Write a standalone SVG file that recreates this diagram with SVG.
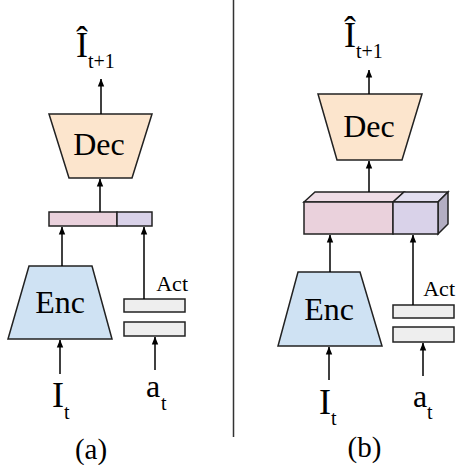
<svg xmlns="http://www.w3.org/2000/svg" width="456" height="465" viewBox="0 0 456 465">
<defs>
<marker id="ah" viewBox="0 0 8 8" refX="7.5" refY="4" markerWidth="8" markerHeight="8" markerUnits="userSpaceOnUse" orient="auto">
<path d="M0,0.8 L8,4 L0,7.2 Z" fill="#000"/>
</marker>
</defs>
<style>
text{font-family:"Liberation Serif","Times New Roman",serif;fill:#000}
.big{font-size:36px}
.sub{font-size:20px}
.lbl{font-size:32px;text-anchor:middle}
.act{font-size:22px;text-anchor:end}
.cap{font-size:29px;text-anchor:middle}
.shape{stroke:#222;stroke-width:1.5;stroke-linejoin:miter}
.dec{fill:#FCE5CD}
.enc{fill:#CFE2F3}
.pink{fill:#EAD1DC}
.lav{fill:#D9D2E9}
.pinkt{fill:#EFDDE6}
.lavt{fill:#E3DFF0}
.lavs{fill:#B3AEC2}
.box{fill:#EEEEEE}
.arr{stroke:#000;stroke-width:1.5;fill:none;marker-end:url(#ah)}
</style>

<line x1="233.5" y1="0" x2="233.5" y2="437" stroke="#333" stroke-width="1.5"/>

<!-- Panel (a) -->
<g id="a-out">
<text class="big"><tspan x="76" y="57">Î</tspan><tspan class="sub" x="88" y="68">t+1</tspan></text>
</g>
<g id="a-dec">
<polygon class="shape dec" points="49,114 152,114 132,178 69,178"/>
<text class="lbl" x="99" y="155">Dec</text>
</g>
<g id="a-bar">
<rect class="shape pink" x="49" y="212" width="68" height="14"/>
<rect class="shape lav" x="117" y="212" width="35" height="14"/>
</g>
<g id="a-enc">
<polygon class="shape enc" points="29,266 92,266 112,339 8,339"/>
<text class="lbl" x="60" y="313">Enc</text>
</g>
<g id="a-act">
<rect class="shape box" x="124" y="299" width="61" height="13"/>
<rect class="shape box" x="124" y="322" width="61" height="14"/>
<text class="act" x="188" y="291">Act</text>
</g>
<g id="a-it">
<text class="big"><tspan x="52" y="407">I</tspan><tspan class="sub" x="64" y="419">t</tspan></text>
</g>
<g id="a-at">
<text class="big" style="font-size:32px"><tspan x="146" y="397">a</tspan><tspan class="sub" x="161" y="410">t</tspan></text>
</g>
<text class="cap" x="91" y="459">(a)</text>

<!-- Panel (b) -->
<g id="b-out">
<text class="big"><tspan x="344" y="47">Î</tspan><tspan class="sub" x="356" y="58">t+1</tspan></text>
</g>
<g id="b-dec">
<polygon class="shape dec" points="318,94 422,94 402,160 337,160"/>
<text class="lbl" x="369" y="137">Dec</text>
</g>
<g id="b-bar">
<polygon class="shape pinkt" points="304,202 315,192 404,192 393,202"/>
<polygon class="shape lavt" points="393,202 404,192 448,192 438,202"/>
<polygon class="shape lavs" points="438,202 448,192 448,224 438,234"/>
<rect class="shape pink" x="304" y="202" width="89" height="32"/>
<rect class="shape lav" x="393" y="202" width="45" height="32"/>
</g>
<g id="b-enc">
<polygon class="shape enc" points="298,272 360,272 382,346 278,346"/>
<text class="lbl" x="329" y="320">Enc</text>
</g>
<g id="b-act">
<rect class="shape box" x="393" y="305" width="61" height="13"/>
<rect class="shape box" x="393" y="327" width="61" height="15"/>
<text class="act" x="455" y="296">Act</text>
</g>
<g id="b-it">
<text class="big"><tspan x="319" y="414">I</tspan><tspan class="sub" x="331" y="425">t</tspan></text>
</g>
<g id="b-at">
<text class="big" style="font-size:32px"><tspan x="413" y="407">a</tspan><tspan class="sub" x="427" y="419">t</tspan></text>
</g>
<text class="cap" x="364.5" y="457">(b)</text>

<g id="connectors">
<line class="arr" x1="101" y1="114" x2="101" y2="79"/>
<line class="arr" x1="100" y1="212" x2="100" y2="179"/>
<line class="arr" x1="62" y1="266" x2="62" y2="227"/>
<line class="arr" x1="144" y1="299" x2="144" y2="227"/>
<line class="arr" x1="60" y1="374" x2="60" y2="340"/>
<line class="arr" x1="155" y1="370" x2="155" y2="337"/>
<line class="arr" x1="369" y1="94" x2="369" y2="70"/>
<line class="arr" x1="369" y1="192" x2="369" y2="161"/>
<line class="arr" x1="330" y1="272" x2="330" y2="235"/>
<line class="arr" x1="413" y1="305" x2="413" y2="235"/>
<line class="arr" x1="329" y1="380" x2="329" y2="347"/>
<line class="arr" x1="423" y1="376" x2="423" y2="343"/>
</g>
</svg>
